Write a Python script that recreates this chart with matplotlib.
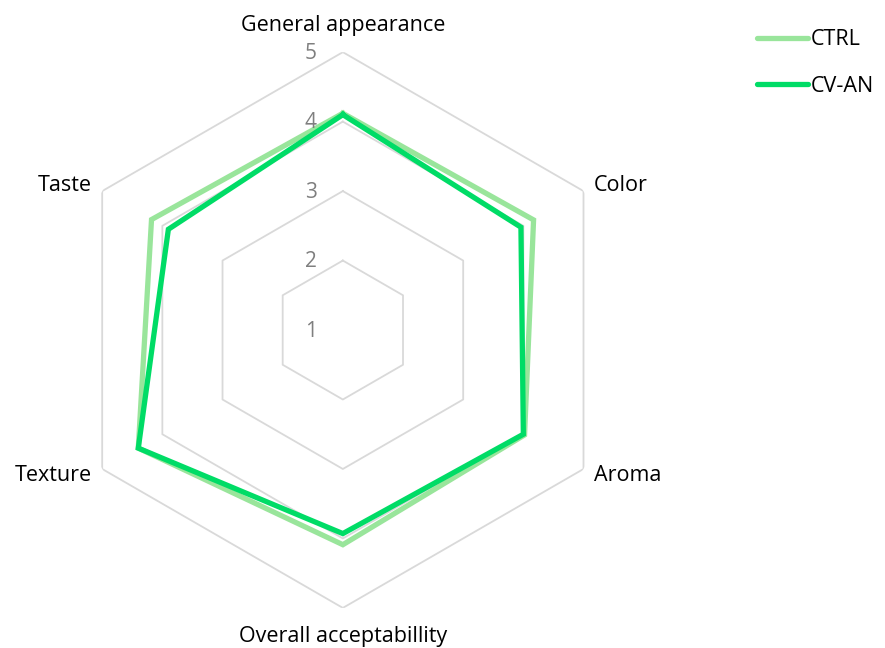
import numpy as np
import matplotlib
matplotlib.use("Agg")
import matplotlib.pyplot as plt
from matplotlib.lines import Line2D

plt.rcParams['font.family'] = ['Open Sans', 'DejaVu Sans']

categories = ["General appearance", "Color", "Aroma", "Overall acceptabillity", "Texture", "Taste"]
ctrl = [4.12, 4.17, 4.02, 4.09, 4.40, 4.18]
cvan = [4.10, 3.96, 4.00, 3.93, 4.40, 3.90]
series_names = ["CTRL", "CV-AN"]
ring_levels = [1, 2, 3, 4, 5]

c_ctrl = "#99e59b"
c_cvan = "#00dc66"
grid_c = "#d9d9d9"

n = len(categories)
angles = np.arange(n) * 2 * np.pi / n

fig = plt.figure(figsize=(8.85, 6.48), dpi=100)
ax = fig.add_axes([0.0734, 0.0617, 0.628, 0.858], projection="polar")
ax.set_theta_offset(np.pi / 2)
ax.set_theta_direction(-1)
ax.set_ylim(1, 5)
ax.grid(False)
ax.spines["polar"].set_visible(False)
ax.set_xticks([])
ax.set_yticks([])

closed = np.append(angles, angles[0])

# hexagon grid (no spokes)
for lv in ring_levels[1:]:
    ax.plot(closed, [lv] * (n + 1), color=grid_c, lw=1.3, zorder=1)

ax.plot(closed, ctrl + ctrl[:1], color=c_ctrl, lw=3.8, zorder=3, solid_joinstyle="miter")
ax.plot(closed, cvan + cvan[:1], color=c_cvan, lw=3.8, zorder=4, solid_joinstyle="miter")

# radial value labels
for lv in ring_levels:
    ax.annotate(str(lv), xy=(0, lv), xytext=(-32, -1), textcoords="offset pixels",
                ha="center", va="center", fontsize=15, color="#7f7f7f", annotation_clip=False)

# category labels
offsets = [(0, 27, "center"), (10, 6, "left"), (10, -7, "left"),
           (0, -29, "center"), (-10, -7, "right"), (-10, 6, "right")]
for a, lab, (dx, dy, ha) in zip(angles, categories, offsets):
    ax.annotate(lab, xy=(a, 5), xytext=(dx, dy), textcoords="offset pixels",
                ha=ha, va="center", fontsize=15.5, color="black", annotation_clip=False)

handles = [Line2D([], [], color=c, lw=3.8, solid_capstyle="round") for c in (c_ctrl, c_cvan)]
fig.legend(handles, series_names, loc="upper left", bbox_to_anchor=(0.855, 0.955),
           frameon=False, fontsize=15.5, handlelength=2.4, handletextpad=0.1,
           labelspacing=1.2, borderaxespad=0, borderpad=0)

fig.savefig("out.png", dpi=100)
